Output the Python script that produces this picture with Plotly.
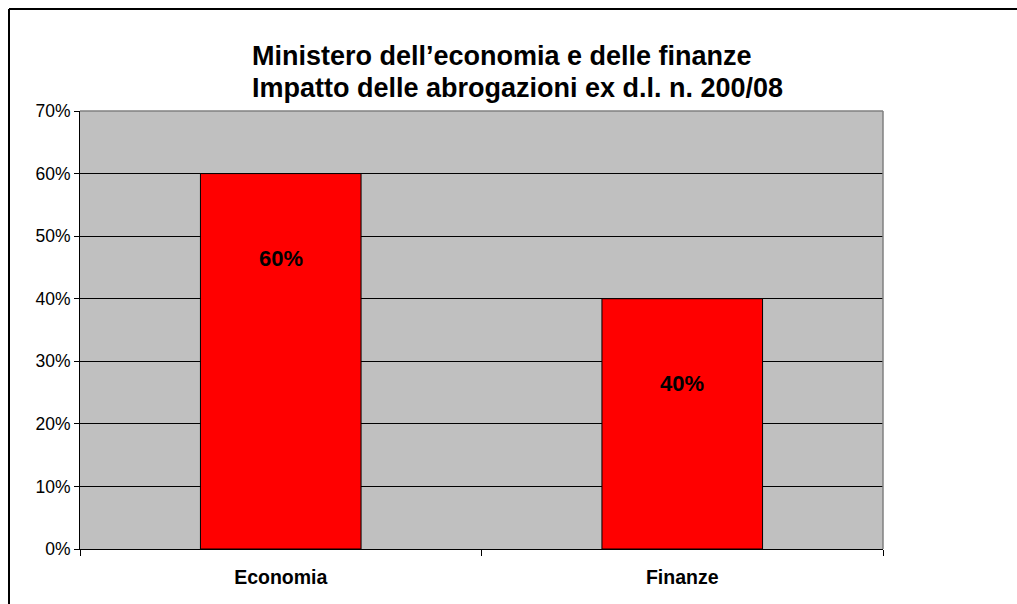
import plotly.graph_objects as go

categories = ["Economia", "Finanze"]
values = [0.60, 0.40]
title_lines = ["Ministero dell\u2019economia e delle finanze", "Impatto delle abrogazioni ex d.l. n. 200/08"]
y_ticks = [0, 0.1, 0.2, 0.3, 0.4, 0.5, 0.6, 0.7]

FONT = "Liberation Sans, Arial, sans-serif"
W, H = 1017, 604
L, T = 80, 111
pw, ph = 803, 438
R, B = W - L - pw, H - T - ph

fig = go.Figure()
fig.add_trace(go.Bar(
    x=categories, y=values, width=0.4,
    marker=dict(color="#FF0000", line=dict(color="black", width=1)),
    hoverinfo="skip",
))

for c, v in zip(categories, values):
    fig.add_annotation(x=c, y=v, xref="x", yref="y", text="<b>%d%%</b>" % round(v * 100),
                       showarrow=False, yshift=-85,
                       font=dict(size=22, color="black", family=FONT))

# title, two left-aligned lines
title_x_px = 250
title_y_px = [56, 88]
for line, ypx in zip(title_lines, title_y_px):
    fig.add_annotation(text="<b>" + line + "</b>", xref="paper", yref="paper",
                       x=(title_x_px - L) / pw, y=(T + ph - ypx) / ph,
                       xanchor="left", yanchor="middle", showarrow=False,
                       font=dict(size=27, color="black", family=FONT))

fig.update_layout(
    width=W, height=H,
    margin=dict(l=L, r=R, t=T, b=B),
    paper_bgcolor="white", plot_bgcolor="#C0C0C0",
    showlegend=False,
    font=dict(family=FONT, color="black"),
    bargap=0.6,
)
fig.update_xaxes(
    type="category", tickson="boundaries", ticks="outside", ticklen=6, tickcolor="black",
    showline=True, linecolor="black", linewidth=1, showgrid=False,
    tickfont=dict(size=19.5, color="black", family=FONT, weight="bold"),
    ticklabelstandoff=11,
)
fig.update_yaxes(
    range=[0, 0.7], tickvals=y_ticks, tickformat=".0%", ticks="outside", ticklen=5,
    tickcolor="black", showline=True, linecolor="black", linewidth=1,
    showgrid=True, gridcolor="black", gridwidth=1, zeroline=False,
    tickfont=dict(size=17.5, color="black", family=FONT),
)
# plot-area frame (top/right grey)
fig.add_shape(type="line", xref="x domain", yref="y domain", x0=0, x1=1, y0=1, y1=1,
              line=dict(color="#808080", width=1.5))
fig.add_shape(type="line", xref="x domain", yref="y domain", x0=1, x1=1, y0=0, y1=1,
              line=dict(color="#808080", width=1.5))
# outer chart border: only top and left edges are in view
top_y = (T + ph - 9) / ph
left_x = (9 - L) / pw
fig.add_shape(type="line", xref="paper", yref="paper", x0=left_x, x1=1.5, y0=top_y, y1=top_y,
              line=dict(color="black", width=2), layer="below")
fig.add_shape(type="line", xref="paper", yref="paper", x0=left_x, x1=left_x, y0=-0.5, y1=top_y,
              line=dict(color="black", width=2), layer="below")

fig.write_html(
    "out.html",
    config={"displayModeBar": False, "staticPlot": True},
    post_script="document.body.style.margin='0';document.body.style.overflow='hidden';",
)
